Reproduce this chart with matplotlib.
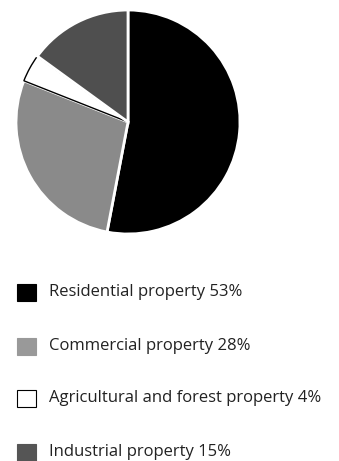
import matplotlib.pyplot as plt
from matplotlib.patches import Rectangle

categories = ["Residential property", "Commercial property",
              "Agricultural and forest property", "Industrial property"]
shares = [53, 28, 4, 15]
colors = ["#000000", "#8a8a8a", "#ffffff", "#4f4f4f"]
legend_colors = ["#000000", "#999999", "#ffffff", "#555555"]

plt.rcParams['font.family'] = ['Open Sans', 'DejaVu Sans']

fig = plt.figure(figsize=(3.39, 4.61), dpi=100)

# pie, starting at twelve o'clock and running clockwise
ax = fig.add_axes([0.0472, 0.4924, 0.6608, 0.4859])
wedges, _ = ax.pie(shares, colors=colors, startangle=90, counterclock=False,
                   wedgeprops=dict(edgecolor="white", linewidth=2))
# the white slice gets a thin black outline
wedges[2].set_edgecolor("black")
wedges[2].set_linewidth(1)
ax.set_xlim(-1.0, 1.0)
ax.set_ylim(-1.0, 1.0)
ax.set_aspect("equal")
ax.axis("off")

# legend rows below the pie
W, H = 339, 461
rows_y = [292, 346, 398, 452]
for name, val, c, y in zip(categories, shares, legend_colors, rows_y):
    fig.patches.append(Rectangle((17 / W, (H - y - 9) / H), 19 / W, 17 / H,
                                 transform=fig.transFigure, facecolor=c,
                                 edgecolor="black" if c == "#ffffff" else c,
                                 linewidth=0.8))
    fig.text(49 / W, (H - y) / H, f"{name} {val}%", fontsize=12,
             va="center", ha="left", color="#222222")

fig.savefig("out.png", dpi=100)
